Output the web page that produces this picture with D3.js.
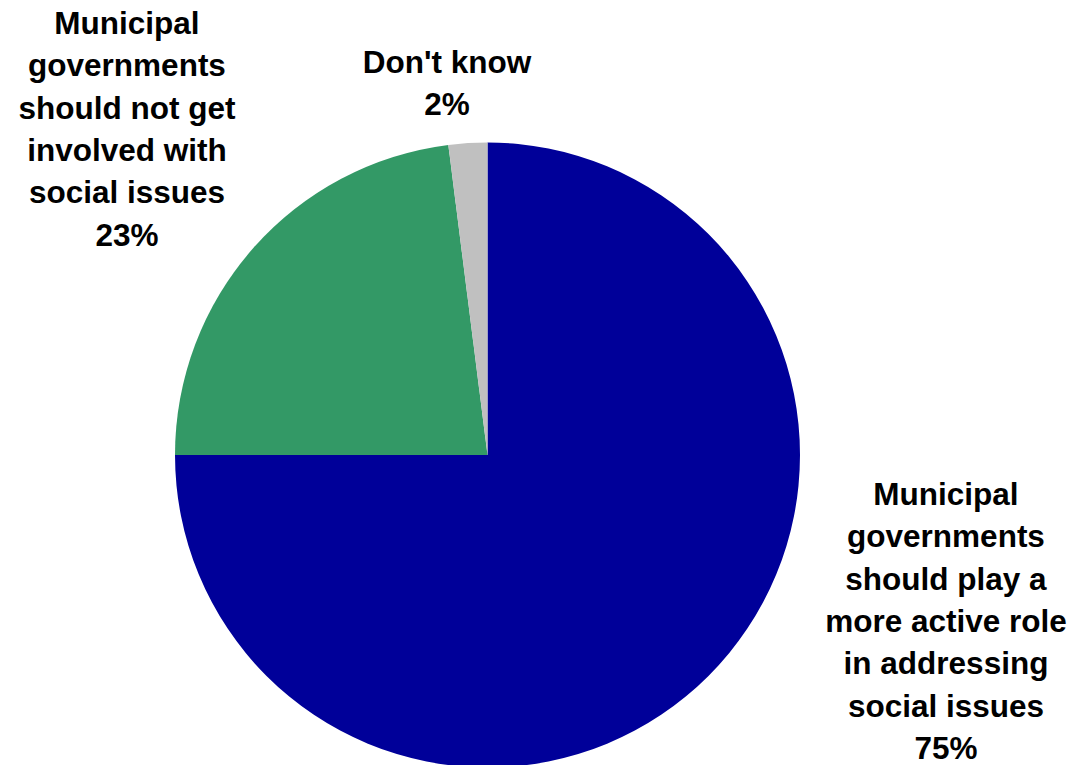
<!DOCTYPE html>
<meta charset="utf-8">
<style>
 body { margin: 0; background: #fff; }
 text {
   font-family: "Liberation Sans", Arial, sans-serif;
   font-weight: bold;
   font-size: 31.5px;
   fill: #000;
 }
</style>
<svg width="1071" height="765"></svg>
<script src="https://d3js.org/d3.v7.min.js"></script>
<script>

 var categories = ["Municipal governments should play a more active role in addressing social issues",
                   "Municipal governments should not get involved with social issues",
                   "Don't know"];
 var values = [75, 23, 2];
 var colors = ["#000099", "#339966", "#C0C0C0"];
 // label lines as wrapped in the original
 var labelLines = [
   ["Municipal", "governments", "should play a", "more active role", "in addressing", "social issues", "75%"],
   ["Municipal", "governments", "should not get", "involved with", "social issues", "23%"],
   ["Don't know", "2%"]
 ];
 // label anchor: centre x, first baseline y
 var labelPos = [[946, 505], [127, 34], [447, 73]];

 var svg = d3.select("svg"),
     cx = 487.5, cy = 455, r = 312.5;

 var data = categories.map(function(c, i) { return { name: c, value: values[i], i: i }; });

 var pie = d3.pie()
             .sort(null)
             .value(function(d) { return d.value; });

 var arc = d3.arc()
             .innerRadius(0)
             .outerRadius(r);

 var g = svg.append("g")
            .attr("transform", "translate(" + cx + "," + cy + ")");

 g.selectAll("path")
  .data(pie(data))
  .enter().append("path")
  .attr("d", arc)
  .attr("fill", function(d) { return colors[d.data.i]; });

 var lineH = 42.3;
 var labels = svg.append("g")
                 .selectAll("text")
                 .data(data)
                 .enter().append("text")
                 .attr("text-anchor", "middle")
                 .attr("x", function(d) { return labelPos[d.i][0]; })
                 .attr("y", function(d) { return labelPos[d.i][1]; });

 labels.each(function(d) {
   var t = d3.select(this);
   labelLines[d.i].forEach(function(line, j) {
     t.append("tspan")
      .attr("x", labelPos[d.i][0])
      .attr("y", labelPos[d.i][1] + j * lineH)
      .text(line);
   });
 });
</script>
